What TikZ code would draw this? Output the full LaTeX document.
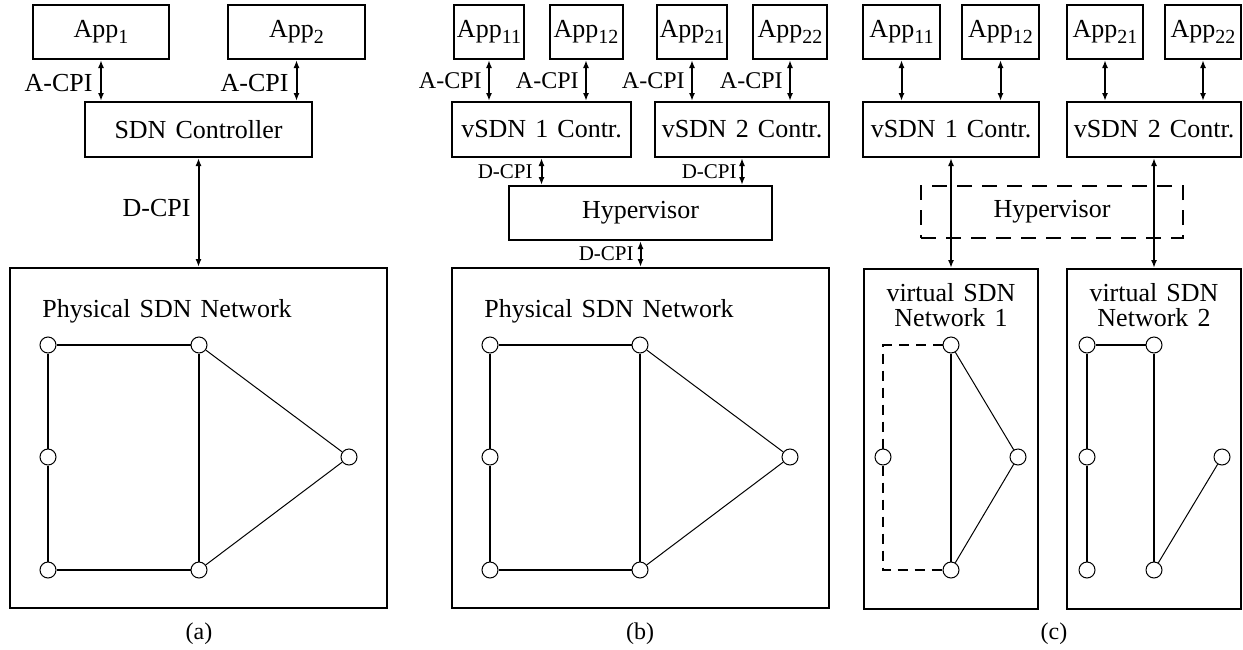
\documentclass[tikz,border=0pt]{standalone}
\usepackage{fontspec}
\setmainfont{Liberation Serif}[WordSpace=1.4]
\usetikzlibrary{arrows.meta}
\newcommand{\appsub}[1]{App\raisebox{-2.6pt}{\fontsize{10}{12}\selectfont #1}}
\begin{document}
\begin{tikzpicture}[x=0.5pt,y=-0.5pt,
  font=\fontsize{13}{15}\selectfont,
  box/.style={draw,line width=1pt,inner sep=0pt},
  dbl/.style={line width=1pt,{Latex[length=4pt,width=3pt]}-{Latex[length=4pt,width=3pt]}},
  sw/.style={circle,draw,line width=0.5pt,minimum size=8pt,inner sep=0pt,fill=white},
  thick edge/.style={line width=1pt},
  thin edge/.style={line width=0.5pt},
  lab/.style={anchor=east,inner sep=0pt},
  smalllab/.style={anchor=east,inner sep=0pt,font=\fontsize{10.5}{12}\selectfont},
  dsh/.style={line width=1pt,dash pattern=on 5pt off 3.5pt},
  captxt/.style={font=\fontsize{12}{14}\selectfont}
]
\useasboundingbox (0,0) rectangle (1243,649);

% ---------------- (a) ----------------
\node[box,minimum width=68pt,minimum height=27pt] (a1) at (101,32) {\appsub{1}};
\node[box,minimum width=68.5pt,minimum height=27pt] (a2) at (296.5,32) {\appsub{2}};
\node[box,minimum width=113.5pt,minimum height=27.5pt] (actl) at (198.5,129.5) {SDN Controller};
\node[box,minimum width=188.5pt,minimum height=170pt] (anet) at (198.5,438) {};
\draw[dbl] (a1.south) -- (a1.south |- actl.north);
\draw[dbl] (a2.south) -- (a2.south |- actl.north);
\draw[dbl] (actl.south) -- (actl.south |- anet.north);
\node[lab] (la1) at (93,83) {A-CPI};
\node[lab] (la2) at (289,83) {A-CPI};
\node[lab] (lad) at (191,208) {D-CPI};
\node[anchor=west,inner sep=0pt] (atxt) at (42,311) {Physical SDN Network};
\node[sw] (an1) at (48,345) {};
\node[sw] (an2) at (199,345) {};
\node[sw] (an3) at (48,457) {};
\node[sw] (an4) at (48,570) {};
\node[sw] (an5) at (199,570) {};
\node[sw] (an6) at (349,457) {};
\draw[thick edge] (an1) -- (an2);
\draw[thick edge] (an1) -- (an3);
\draw[thick edge] (an3) -- (an4);
\draw[thick edge] (an4) -- (an5);
\draw[thick edge] (an2) -- (an5);
\draw[thin edge] (an2) -- (an6);
\draw[thin edge] (an6) -- (an5);
\node[captxt] (capa) at (199,634) {(a)};

% ---------------- (b) ----------------
\node[box,minimum width=35pt,minimum height=27pt] (b11) at (489,32) {\appsub{11}};
\node[box,minimum width=36.5pt,minimum height=27pt] (b12) at (586,32) {\appsub{12}};
\node[box,minimum width=35pt,minimum height=27pt] (b21) at (692,32) {\appsub{21}};
\node[box,minimum width=37pt,minimum height=27pt] (b22) at (790,32) {\appsub{22}};
\node[box,minimum width=89.5pt,minimum height=27.5pt] (bc1) at (541.5,129.5) {vSDN 1 Contr.};
\node[box,minimum width=87pt,minimum height=27.5pt] (bc2) at (742,129.5) {vSDN 2 Contr.};
\node[box,minimum width=131.5pt,minimum height=27pt] (bhyp) at (640.5,213) {Hypervisor};
\node[box,minimum width=188.5pt,minimum height=170pt] (bnet) at (640.5,438) {};
\draw[dbl] (b11.south) -- (b11.south |- bc1.north);
\draw[dbl] (b12.south) -- (b12.south |- bc1.north);
\draw[dbl] (b21.south) -- (b21.south |- bc2.north);
\draw[dbl] (b22.south) -- (b22.south |- bc2.north);
\draw[dbl] (bc1.south) -- (bc1.south |- bhyp.north);
\draw[dbl] (bc2.south) -- (bc2.south |- bhyp.north);
\draw[dbl] (bhyp.south) -- (bhyp.south |- bnet.north);
\node[lab,font=\fontsize{12}{14}\selectfont] (lb1) at (482,81) {A-CPI};
\node[lab,font=\fontsize{12}{14}\selectfont] (lb2) at (579,81) {A-CPI};
\node[lab,font=\fontsize{12}{14}\selectfont] (lb3) at (685,81) {A-CPI};
\node[lab,font=\fontsize{12}{14}\selectfont] (lb4) at (783,81) {A-CPI};
\node[smalllab] (lbd1) at (533,172) {D-CPI};
\node[smalllab] (lbd2) at (737,172) {D-CPI};
\node[smalllab] (lbd3) at (634,254) {D-CPI};
\node[anchor=west,inner sep=0pt] (btxt) at (484,311) {Physical SDN Network};
\node[sw] (bn1) at (490,345) {};
\node[sw] (bn2) at (640,345) {};
\node[sw] (bn3) at (490,457) {};
\node[sw] (bn4) at (490,570) {};
\node[sw] (bn5) at (640,570) {};
\node[sw] (bn6) at (790,457) {};
\draw[thick edge] (bn1) -- (bn2);
\draw[thick edge] (bn1) -- (bn3);
\draw[thick edge] (bn3) -- (bn4);
\draw[thick edge] (bn4) -- (bn5);
\draw[thick edge] (bn2) -- (bn5);
\draw[thin edge] (bn2) -- (bn6);
\draw[thin edge] (bn6) -- (bn5);
\node[captxt] (capb) at (640,634) {(b)};

% ---------------- (c) ----------------
\node[box,minimum width=38.5pt,minimum height=27pt] (c11) at (901.5,32) {\appsub{11}};
\node[box,minimum width=38.5pt,minimum height=27pt] (c12) at (1000.5,32) {\appsub{12}};
\node[box,minimum width=38pt,minimum height=27pt] (c21) at (1105,32) {\appsub{21}};
\node[box,minimum width=38pt,minimum height=27pt] (c22) at (1203,32) {\appsub{22}};
\node[box,minimum width=88pt,minimum height=27.5pt] (cc1) at (951,129.5) {vSDN 1 Contr.};
\node[box,minimum width=87pt,minimum height=27.5pt] (cc2) at (1154,129.5) {vSDN 2 Contr.};
\node[draw,line width=1pt,dash pattern=on 7.5pt off 5pt,inner sep=0pt,minimum width=131pt,minimum height=26pt] (chyp) at (1052,212) {Hypervisor};
\node[box,minimum width=87pt,minimum height=170pt] (cnet1) at (951,439) {};
\node[box,minimum width=87pt,minimum height=170pt] (cnet2) at (1154,439) {};
\draw[dbl] (c11.south) -- (c11.south |- cc1.north);
\draw[dbl] (c12.south) -- (c12.south |- cc1.north);
\draw[dbl] (c21.south) -- (c21.south |- cc2.north);
\draw[dbl] (c22.south) -- (c22.south |- cc2.north);
\draw[dbl] (cc1.south) -- (cc1.south |- cnet1.north);
\draw[dbl] (cc2.south) -- (cc2.south |- cnet2.north);
\node[align=center,inner sep=0pt,font=\fontsize{13}{12.5}\selectfont] (ct1) at (951,305) {virtual SDN\\Network 1};
\node[align=center,inner sep=0pt,font=\fontsize{13}{12.5}\selectfont] (ct2) at (1154,305) {virtual SDN\\Network 2};
% network 1
\node[sw] (t1) at (951,345) {};
\node[sw] (l1) at (883,457) {};
\node[sw] (r1) at (1018,457) {};
\node[sw] (b1) at (951,570) {};
\draw[thick edge] (t1) -- (b1);
\draw[thin edge] (t1) -- (r1);
\draw[thin edge] (r1) -- (b1);
\draw[dsh] (t1) -| (l1);
\draw[dsh] (l1) |- (b1);
% network 2
\node[sw] (m1) at (1087,345) {};
\node[sw] (m2) at (1154,345) {};
\node[sw] (m3) at (1087,457) {};
\node[sw] (m4) at (1087,570) {};
\node[sw] (m5) at (1154,570) {};
\node[sw] (m6) at (1222,457) {};
\draw[thick edge] (m1) -- (m2);
\draw[thick edge] (m1) -- (m3);
\draw[thick edge] (m3) -- (m4);
\draw[thick edge] (m2) -- (m5);
\draw[thin edge] (m5) -- (m6);
\node[captxt] (capc) at (1054,634) {(c)};
\end{tikzpicture}
\end{document}
